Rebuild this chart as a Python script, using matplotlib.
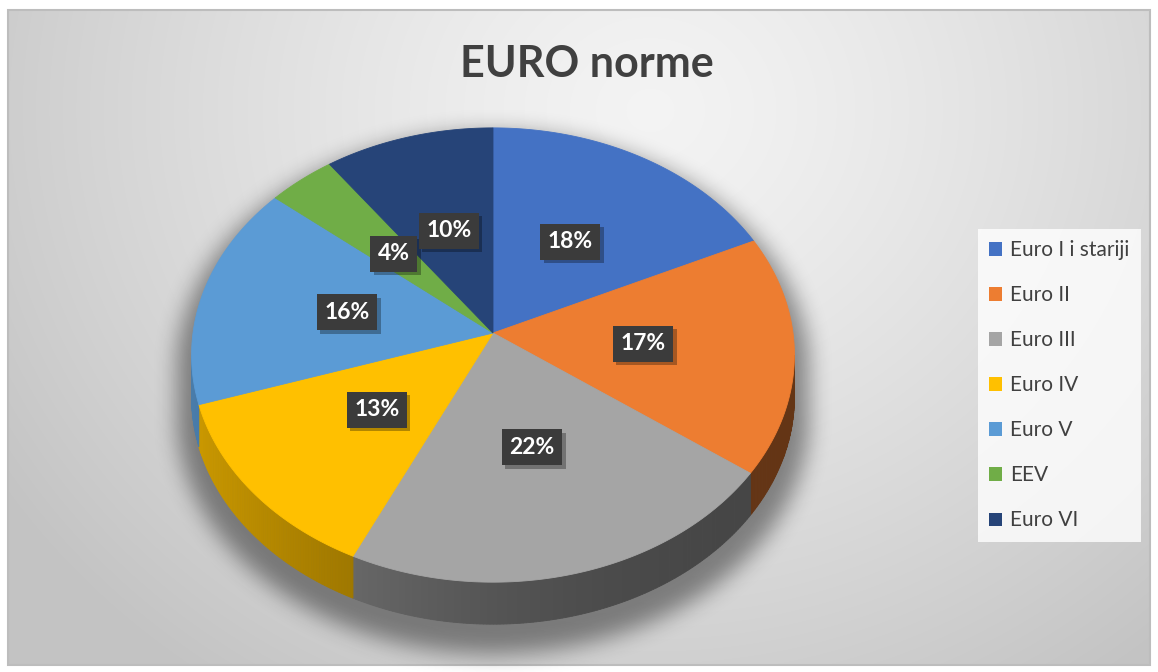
import numpy as np
import matplotlib.pyplot as plt
import matplotlib.patheffects as pe
from matplotlib.colors import to_rgb
from matplotlib.patches import Polygon, Patch, Rectangle
from matplotlib.path import Path

# podaci
kategorije = ["Euro I i stariji", "Euro II", "Euro III", "Euro IV", "Euro V", "EEV", "Euro VI"]
udjeli = [18, 17, 22, 13, 16, 4, 10]
boje = ["#4472C4", "#ED7D31", "#A5A5A5", "#FFC000", "#5B9BD5", "#70AD47", "#264478"]
naslov = "EURO norme"

plt.rcParams['font.family'] = ['Lato', 'DejaVu Sans']

W, H = 1158, 672
fig = plt.figure(figsize=(W / 100, H / 100), dpi=100)
ax = fig.add_axes([0, 0, 1, 1])
ax.set_xlim(0, W)
ax.set_ylim(H, 0)
ax.axis('off')

# okvir i pozadina (radijalni gradijent)
x0, x1, y0, y1 = 8, 1150, 10, 665
gx, gy = np.meshgrid(np.arange(x0, x1), np.arange(y0, y1))
dist = np.sqrt((gx - 650) ** 2 + ((gy - 110) / 0.9) ** 2) / 780
dist = np.clip(dist, 0, 1)
svj = 0.955 - 0.19 * dist ** 1.3
pozadina = np.dstack([svj, svj, svj])
ax.imshow(pozadina, extent=[x0, x1, y1, y0], aspect='auto', zorder=0, interpolation='bilinear')
ax.add_patch(Rectangle((x0, y0), x1 - x0, y1 - y0, fill=False, edgecolor='#bdbdbd', lw=1.5, zorder=1))

# geometrija 3D pite
CX, CY = 493, 333
A, B, K = 300, 225, 0.097
DEB = 42


def proj(theta, r=1.0):
    u = r * np.cos(theta)
    v = r * np.sin(theta)
    d = 1 + K * v
    return CX + A * u / d, CY - B * v / d


kum = np.concatenate([[0], np.cumsum(udjeli)]) / np.sum(udjeli)
kutovi = np.pi / 2 - 2 * np.pi * kum
a = np.arcsin(K)
vid_lo, vid_hi = -np.pi + a, -a

# sjena ispod pite
t = np.linspace(vid_hi, vid_hi - 2 * np.pi, 400)
sx, sy = proj(t)
front = np.sin(t) < -K
sy = sy + np.where(front, DEB, 0)
sil = np.column_stack([sx, sy])
cen = np.array([CX, CY + 20])
sil = (sil - cen) * 1.05 + cen + np.array([0, 16])
fx, fy = np.meshgrid(np.arange(W) + 0.5, np.arange(H) + 0.5)
maska = Path(sil).contains_points(np.column_stack([fx.ravel(), fy.ravel()])).reshape(H, W).astype(float)


def box_blur(img, r, os):
    c = np.cumsum(np.pad(img, [(r + 1, r) if i == os else (0, 0) for i in range(2)], mode='edge'), axis=os)
    if os == 0:
        return (c[2 * r + 1:] - c[:-2 * r - 1]) / (2 * r + 1)
    return (c[:, 2 * r + 1:] - c[:, :-2 * r - 1]) / (2 * r + 1)


for _ in range(3):
    maska = box_blur(maska, 10, 0)
    maska = box_blur(maska, 10, 1)
sjena = np.zeros((H, W, 4))
sjena[..., 3] = maska * 0.42
ax.imshow(sjena, extent=[0, W, H, 0], aspect='auto', zorder=2, interpolation='bilinear')

# bocne stijene
xl, xr = proj(vid_lo)[0], proj(vid_hi)[0]
for i, boja in enumerate(boje):
    ts, te = kutovi[i], kutovi[i + 1]
    lo, hi = max(te, vid_lo), min(ts, vid_hi)
    if lo >= hi:
        continue
    n = max(int((hi - lo) / 0.01), 2)
    tt = np.linspace(hi, lo, n + 1)
    px, py = proj(tt)
    rgb = np.array(to_rgb(boja))
    for j in range(n):
        xm = 0.5 * (px[j] + px[j + 1])
        s = (xr - xm) / (xr - xl)
        f = 0.42 + 0.38 * s ** 2
        c = np.clip(rgb * f, 0, 1)
        quad = [(px[j], py[j]), (px[j + 1], py[j + 1]),
                (px[j + 1], py[j + 1] + DEB), (px[j], py[j] + DEB)]
        ax.add_patch(Polygon(quad, closed=True, facecolor=c, edgecolor=c, lw=0.6, zorder=3))

# gornja ploha
for i, boja in enumerate(boje):
    tt = np.linspace(kutovi[i], kutovi[i + 1], 200)
    px, py = proj(tt)
    pts = [(CX, CY)] + list(zip(px, py))
    ax.add_patch(Polygon(pts, closed=True, facecolor=boja, edgecolor=boja, lw=0.6, zorder=4))

# oznake postotaka
for i in range(len(udjeli)):
    sred = 0.5 * (kutovi[i] + kutovi[i + 1])
    lx, ly = proj(sred, 0.5)
    tekst = f"{udjeli[i] / np.sum(udjeli) * 100:.0f}%"
    txt = ax.text(lx, ly, tekst, ha='center', va='center', fontsize=16.5, fontweight='bold',
                  color='white', zorder=6,
                  bbox=dict(boxstyle='square,pad=0.33', facecolor='#3b3b3b', edgecolor='none'))
    txt.get_bbox_patch().set_path_effects([
        pe.SimplePatchShadow(offset=(2.5, -2.5), shadow_rgbFace='black', alpha=0.3), pe.Normal()])

# naslov
ax.text(587, 64, naslov, ha='center', va='center', fontsize=31, fontweight='bold',
        color='#404040', zorder=6)

# legenda
rucke = [Patch(facecolor=b, edgecolor='none') for b in boje]
leg = ax.legend(rucke, kategorije, loc='upper left',
                bbox_to_anchor=(978 / W, 1 - 229 / H), bbox_transform=fig.transFigure,
                fontsize=15, labelcolor='#404040', frameon=True, fancybox=False,
                handlelength=0.6, handleheight=0.6, handletextpad=0.4,
                labelspacing=1.2, borderpad=0.55, borderaxespad=0)
leg.get_frame().set_facecolor((1, 1, 1, 0.35))
leg.get_frame().set_edgecolor('none')
leg.set_zorder(7)

fig.savefig('out.png', dpi=100)
